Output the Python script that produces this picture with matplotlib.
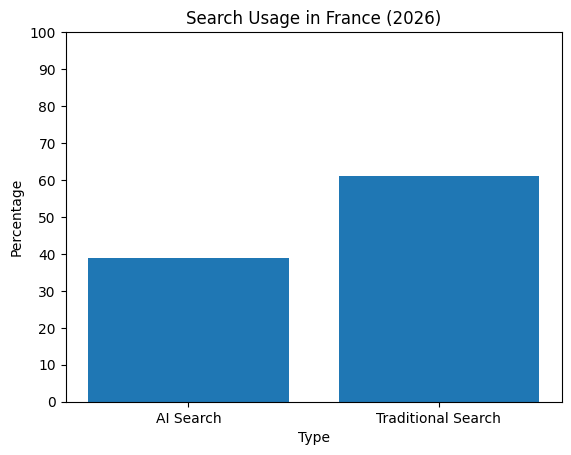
import matplotlib
matplotlib.use("Agg")
import matplotlib.pyplot as plt

# data
search_types = ["AI Search", "Traditional Search"]
usage_pct = [39, 61]

fig, ax = plt.subplots(figsize=(6.4, 4.8), dpi=100)
ax.bar(search_types, usage_pct, color="#1f77b4")
ax.set_ylim(0, 100)
ax.set_yticks(range(0, 101, 10))
ax.set_xlabel("Type")
ax.set_ylabel("Percentage")
ax.set_title("Search Usage in France (2026)")

fig.savefig("out.png", bbox_inches="tight")
